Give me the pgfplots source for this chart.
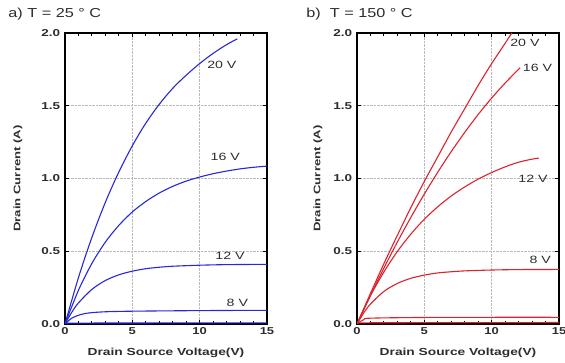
\documentclass[border=0pt]{standalone}
\usepackage{pgfplots}
\pgfplotsset{compat=1.18}
\usepackage{fontspec}
\setmainfont{Liberation Sans}
\definecolor{cblue}{RGB}{40,40,215}
\definecolor{cred}{RGB}{220,35,45}
\definecolor{ctxt}{RGB}{45,45,45}
\begin{document}
\begin{tikzpicture}
\path[use as bounding box] (0pt,0pt) rectangle (565pt,363pt);
\tikzset{lab/.style={text=ctxt, font=\fontsize{10.5}{12}\selectfont, xscale=1.35},
  ylab/.style={text=ctxt, font=\bfseries\fontsize{9.5}{12}\selectfont, anchor=center, rotate=90, xscale=1.38}}
\pgfplotsset{
 myax/.style={
  scale only axis, width=202pt, height=291pt,
  xmin=0,xmax=15,ymin=0,ymax=2,
  xtick={0,5,10,15}, ytick={0,0.5,1,1.5,2},
  minor x tick num=4,
  tick align=inside,
  grid=major, major grid style={gray!55, densely dotted, line width=0.6pt},
  axis line style={line width=1.3pt},
  major tick length=4pt, minor tick length=3pt,
  tick style={black, line width=0.9pt},
  /pgf/number format/assume math mode=true,
  xticklabel style={font=\bfseries\fontsize{10}{12}\selectfont, text=ctxt, xscale=1.3},
  yticklabel style={font=\bfseries\fontsize{10}{12}\selectfont, text=ctxt, xscale=1.35,
    /pgf/number format/fixed, /pgf/number format/precision=1, /pgf/number format/fixed zerofill},
  xlabel={Drain Source Voltage(V)},
  xlabel style={font=\bfseries\fontsize{10.2}{12}\selectfont, text=ctxt, xscale=1.35, at={(axis description cs:0.5,-0.0997)}, anchor=center},
  every axis plot/.append style={line width=1.1pt, smooth, no markers},
  clip mode=individual,
 }}
\begin{axis}[myax, at={(65pt,39pt)}, anchor=south west]
\addplot[cblue] coordinates {(0,0) (1,0.319) (2,0.596) (3,0.837) (4,1.045) (5,1.225) (6,1.38) (7,1.51) (8,1.62) (9,1.71) (10,1.79) (11,1.86) (12,1.92) (12.8,1.96)};
\addplot[cblue] coordinates {(0,0) (1,0.232) (2,0.417) (3,0.563) (4,0.678) (5,0.770) (6,0.842) (7,0.900) (8,0.946) (9,0.982) (10,1.010) (11,1.033) (12,1.051) (13,1.066) (14,1.077) (15,1.085)};
\addplot[cblue] coordinates {(0,0) (0.5,0.080) (1,0.145) (2,0.238) (3,0.299) (4,0.338) (5,0.363) (6,0.380) (7,0.390) (8,0.397) (10,0.404) (12,0.408) (15,0.41)};
\addplot[cblue] coordinates {(0,0) (0.5,0.04) (1,0.06) (1.5,0.072) (2,0.078) (3,0.084) (5,0.088) (10,0.092) (15,0.094)};
\addplot[cblue] coordinates {(0,0) (0.5,0.006) (15,0.008)};
\node[lab] at (axis cs:11.65,1.78) {20 V};
\node[lab] at (axis cs:11.9,1.15) {16 V};
\node[lab] at (axis cs:12.25,0.467) {12 V};
\node[lab] at (axis cs:12.8,0.145) {8 V};
\node[ylab] at (axis description cs:-0.233,0.5) {Drain Current (A)};
\end{axis}
\begin{axis}[myax, at={(357pt,39pt)}, anchor=south west]
\addplot[cred] coordinates {(0,0) (1,0.21) (2,0.415) (3,0.61) (4,0.80) (5,0.98) (6,1.15) (7,1.32) (8,1.48) (9,1.64) (10,1.79) (11,1.93) (11.5,2.0)};
\addplot[cred] coordinates {(0,0) (1,0.197) (2,0.385) (3,0.564) (4,0.733) (5,0.893) (6,1.044) (7,1.185) (8,1.317) (9,1.440) (10,1.553) (11,1.656) (12,1.751) (12.1,1.760)};
\addplot[cred] coordinates {(0,0) (1,0.194) (2,0.358) (3,0.499) (4,0.618) (5,0.72) (6,0.806) (7,0.880) (8,0.942) (9,0.996) (10,1.041) (11,1.080) (12,1.112) (13,1.133) (13.5,1.14)};
\addplot[cred] coordinates {(0,0) (0.5,0.076) (1,0.137) (2,0.224) (3,0.279) (4,0.314) (5,0.336) (6,0.351) (7,0.359) (8,0.365) (10,0.371) (12,0.374) (15,0.375)};
\addplot[cred] coordinates {(0,0) (0.5,0.03) (1,0.04) (5,0.045) (10,0.046) (15,0.046)};
\addplot[cred] coordinates {(0,0) (0.5,0.008) (15,0.01)};
\node[lab] at (axis cs:12.47,1.93) {20 V};
\node[lab] at (axis cs:13.4,1.76) {16 V};
\node[lab] at (axis cs:13.07,1.0) {12 V};
\node[lab] at (axis cs:13.6,0.44) {8 V};
\node[ylab] at (axis description cs:-0.193,0.5) {Drain Current (A)};
\end{axis}
\node[anchor=west, font=\fontsize{13}{14}\selectfont, text=ctxt, xscale=1.25] at (4pt,349pt) {a) T = 25 ° C};
\node[anchor=west, font=\fontsize{13}{14}\selectfont, text=ctxt, xscale=1.25] at (302pt,349pt) {b)\ \ T = 150 ° C};
\end{tikzpicture}
\end{document}
